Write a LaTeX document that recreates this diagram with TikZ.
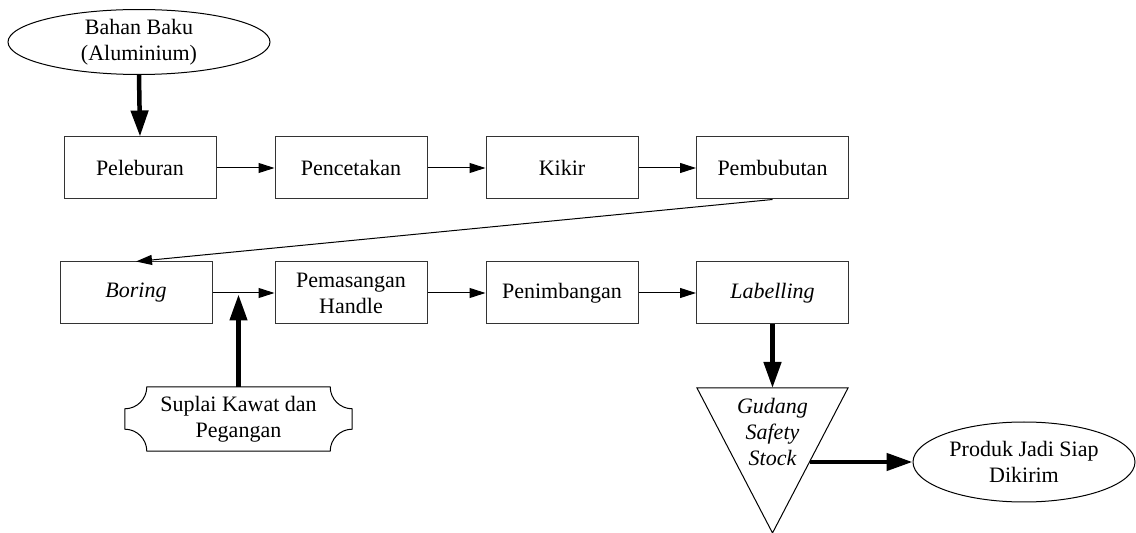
\documentclass[tikz,border=0pt]{standalone}
\usepackage{fontspec}
\setmainfont{Liberation Serif}
\usetikzlibrary{arrows.meta,shapes.geometric}

\begin{document}
\begin{tikzpicture}[x=1pt,y=1pt,
  every node/.style={font=\fontsize{22}{26}\selectfont, align=center},
  procbox/.style={draw=black!80, line width=1pt, minimum width=152pt, minimum height=62pt, inner sep=0pt},
  terminal/.style={draw=black, line width=1pt, ellipse, inner sep=0pt},
  flow/.style={line width=1pt, -{Triangle[length=16pt,width=10pt]}},
  bigflow/.style={line width=4.5pt, -{Triangle[length=26pt,width=17pt]}},
  outline/.style={draw=black, line width=1pt, line join=miter},
]
\useasboundingbox (0,0) rectangle (1136,533);

% raw material
\node[terminal, minimum width=262pt, minimum height=60pt] (bahan) at (139,491) {Bahan Baku\\(Aluminium)};

% first row of process steps
\node[procbox] (lebur) at (140,365) {Peleburan};
\node[procbox] (cetak) at (351,365) {Pencetakan};
\node[procbox] (kikir) at (562,365) {Kikir};
\node[procbox] (bubut) at (772.5,365) {Pembubutan};

% second row of process steps
\node[procbox] (boring) at (136,240) {\itshape Boring};
\node[procbox] (pasang) at (351,240) {Pemasangan\\Handle};
\node[procbox] (timbang) at (562,240) {Penimbangan};
\node[procbox] (label) at (772.5,240) {\itshape Labelling};

% supply of wire and handles (plaque with concave corners)
\node[minimum width=227pt, minimum height=64pt, inner sep=0pt] (suplai) at (238.5,114) {Suplai Kawat dan\\Pegangan};
\draw[outline]
  ([xshift=22pt]suplai.north west) -- ([xshift=-22pt]suplai.north east)
  arc[start angle=180, end angle=270, radius=22pt]
  -- ([yshift=22pt]suplai.south east)
  arc[start angle=90, end angle=180, radius=22pt]
  -- ([xshift=22pt]suplai.south west)
  arc[start angle=0, end angle=90, radius=22pt]
  -- ([yshift=-22pt]suplai.north west)
  arc[start angle=270, end angle=360, radius=22pt]
  -- cycle;

% safety stock warehouse (inverted triangle)
\coordinate (gtl) at (697,145);
\coordinate (gtr) at (848,145);
\coordinate (gbot) at (772.5,0);
\coordinate (gtop) at (772.5,145);
\coordinate (gright) at (809.5,71);
\draw[outline] (gtl) -- (gtr) -- (gbot) -- cycle;
\node (gudang) at (772.5,101) {\itshape Gudang\\\itshape Safety\\\itshape Stock};

% finished product
\node[terminal, minimum width=222pt, minimum height=80pt] (produk) at (1024,71) {Produk Jadi Siap\\Dikirim};

% connectors
\draw[bigflow] (bahan.south) -- (lebur.north);
\draw[flow] (lebur.east) -- (cetak.west);
\draw[flow] (cetak.east) -- (kikir.west);
\draw[flow] (kikir.east) -- (bubut.west);
\draw[flow] (bubut.south) -- (boring.north);
\draw[flow] (boring.east) -- (pasang.west);
\draw[flow] (pasang.east) -- (timbang.west);
\draw[flow] (timbang.east) -- (label.west);
\coordinate (join) at (suplai.north |- boring.east);
\draw[bigflow] (suplai.north) -- ([yshift=-1.5pt]join);
\draw[bigflow] (label.south) -- (gtop);
\draw[bigflow] (gright) -- (produk.west);
\end{tikzpicture}
\end{document}
